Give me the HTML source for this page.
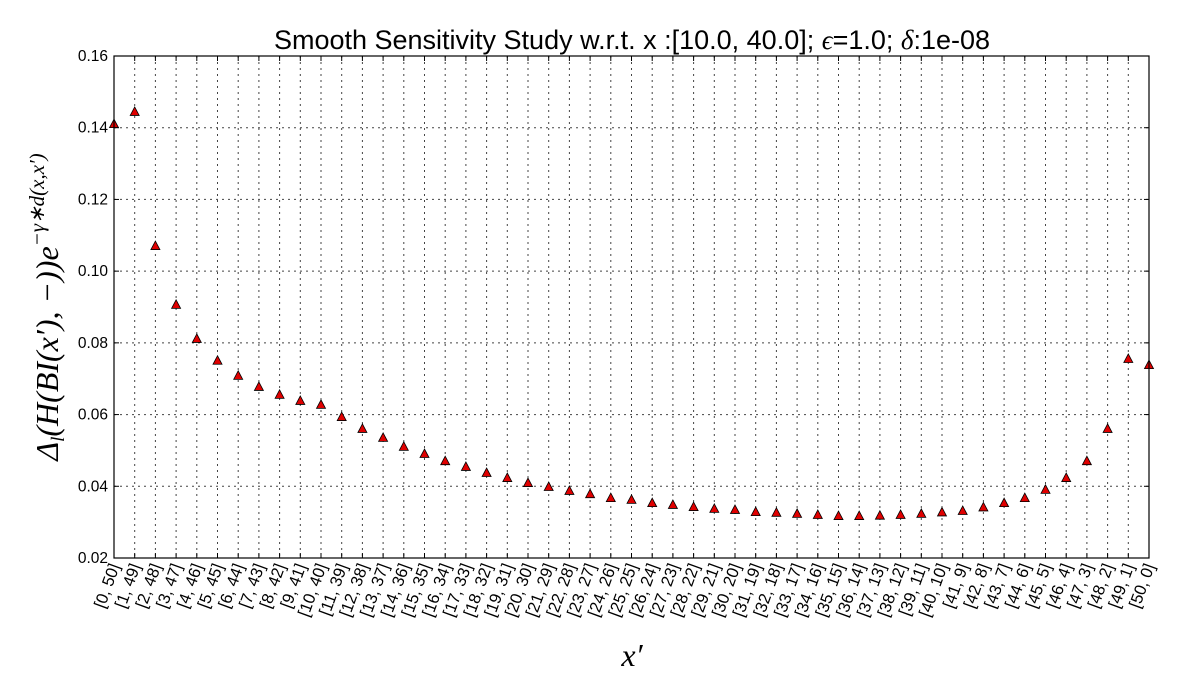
<!DOCTYPE html>
<html><head><meta charset="utf-8"><style>
body{margin:0;background:#fff;}
</style></head><body>
<svg id="chart" width="1198" height="675" xmlns="http://www.w3.org/2000/svg" style="font-family:'Liberation Sans',sans-serif">
<rect width="1198" height="675" fill="#fff"/>
<text x="632" y="49" font-size="27" text-anchor="middle">Smooth Sensitivity Study w.r.t. x :[10.0, 40.0]; <tspan style="font-family:'Liberation Serif',serif;font-style:italic">ϵ</tspan>=1.0; <tspan style="font-family:'Liberation Serif',serif;font-style:italic">δ</tspan>:1e-08</text>
<g id="grid"></g>
<g id="marks"></g>
<rect x="114" y="56" width="1035" height="502" fill="none" stroke="#000" stroke-width="1.2"/>
<g id="yticks"></g>
<g id="xticks"></g>
<text x="632" y="666" font-size="32" style="font-family:'Liberation Serif',serif;font-style:italic" text-anchor="middle">x′</text>
<text transform="translate(58,307) rotate(-90)" font-size="32" style="font-family:'Liberation Serif',serif;font-style:italic" text-anchor="middle">Δ<tspan font-size="19" dy="6">l</tspan><tspan dy="-6">(H(BI(x′), −))e</tspan><tspan font-size="21" dy="-14">−γ∗d(x,x′)</tspan></text>
</svg>
<script>
const yTicks=[0.02,0.04,0.06,0.08,0.10,0.12,0.14,0.16];
const yTickLabels=["0.02","0.04","0.06","0.08","0.10","0.12","0.14","0.16"];
const categories=[];
for(let i=0;i<=50;i++)categories.push("["+i+", "+(50-i)+"]");
const values=[0.141,0.1444,0.107,0.0906,0.0811,0.075,0.0708,0.0677,0.0655,0.0638,0.0627,0.0593,0.056,0.0535,0.051,0.049,0.047,0.0454,0.0437,0.0423,0.0409,0.0398,0.0387,0.0378,0.0367,0.0362,0.0353,0.0348,0.0342,0.0337,0.0334,0.0328,0.0326,0.0323,0.032,0.0317,0.0317,0.0318,0.032,0.0323,0.0327,0.0331,0.0341,0.0353,0.0367,0.039,0.0423,0.047,0.056,0.0755,0.0738];
const L=114,R=1149,T=56,B=558;
const xs=i=>L+(R-L)*i/(categories.length-1);
const ys=v=>B-(v-0.02)/(0.14)*(B-T);
const NS="http://www.w3.org/2000/svg";
function mk(tag,attrs,parent){const e=document.createElementNS(NS,tag);for(const k in attrs)e.setAttribute(k,attrs[k]);parent.appendChild(e);return e;}
const grid=document.getElementById('grid'),marks=document.getElementById('marks'),yt=document.getElementById('yticks'),xt=document.getElementById('xticks');
yTicks.forEach((v,i)=>{
 const y=ys(v);
 const g=mk('line',{x1:L,x2:R,y1:y,y2:y,stroke:'#444','stroke-dasharray':'2,4','stroke-width':1},grid);
 
 
 mk('line',{x1:L,x2:L+5,y1:y,y2:y,stroke:'#000'},yt);
 mk('line',{x1:R,x2:R-5,y1:y,y2:y,stroke:'#000'},yt);
 const t=mk('text',{x:L-6,y:y+5,'font-size':15.5,'text-anchor':'end'},yt);
 
 
 t.textContent=yTickLabels[i];
});
categories.forEach((c,i)=>{
 const x=xs(i);
 const g=mk('line',{x1:x,x2:x,y1:T,y2:B,stroke:'#444','stroke-dasharray':'2,4','stroke-width':1},grid);
 
 
 mk('line',{x1:x,x2:x,y1:B,y2:B-5,stroke:'#000'},xt);
 mk('line',{x1:x,x2:x,y1:T,y2:T+5,stroke:'#000'},xt);
 const t=mk('text',{transform:`translate(${x+6},${B+8}) rotate(-70)`,'font-size':16.5,'text-anchor':'end'},xt);
 
 
 t.textContent=c;
});
values.forEach((v,i)=>{
 const x=xs(i),y=ys(v);
 const p=mk('polygon',{points:`${x},${y-5} ${x-4.5},${y+3.5} ${x+4.5},${y+3.5}`,fill:'#e00000',stroke:'#000','stroke-width':0.8},marks);
 
 
});
</script>
</body></html>
